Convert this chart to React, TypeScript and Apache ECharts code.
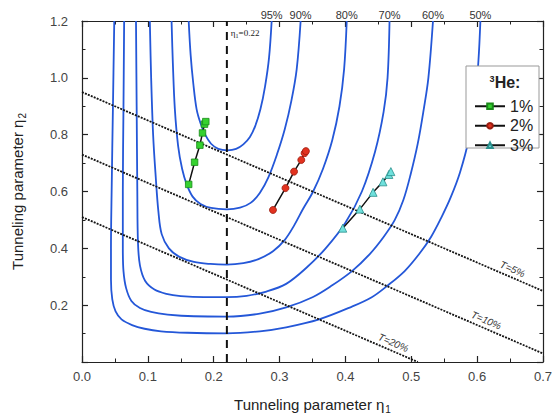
import React, { useEffect, useRef } from "react";
import * as echarts from "echarts";

// Contour curves (η1, η2), labelled at the top of the frame
const contourLevels = ["95%", "90%", "80%", "70%", "60%", "50%"];

const contour95 = [
  [0.162, 1.2], [0.165, 1.08], [0.169, 0.98], [0.174, 0.89], [0.180, 0.84], [0.187, 0.80],
  [0.196, 0.768], [0.207, 0.750], [0.221, 0.745], [0.234, 0.750], [0.245, 0.766], [0.255, 0.792],
  [0.263, 0.830], [0.271, 0.890], [0.278, 0.97], [0.284, 1.07], [0.288, 1.2],
];
const contour90 = [
  [0.136, 1.2], [0.138, 1.05], [0.141, 0.89], [0.146, 0.76], [0.152, 0.68], [0.159, 0.625],
  [0.168, 0.582], [0.180, 0.556], [0.196, 0.542], [0.22, 0.537], [0.240, 0.543], [0.256, 0.560],
  [0.270, 0.595], [0.283, 0.650], [0.296, 0.730], [0.308, 0.820], [0.318, 0.920], [0.326, 1.03],
  [0.332, 1.2],
];
const contour80 = [
  [0.103, 1.2], [0.105, 1.0], [0.108, 0.8], [0.112, 0.65], [0.116, 0.53], [0.121, 0.45],
  [0.132, 0.40], [0.148, 0.37], [0.170, 0.352], [0.195, 0.345], [0.22, 0.343], [0.245, 0.348],
  [0.268, 0.362], [0.290, 0.39], [0.308, 0.43], [0.322, 0.48], [0.336, 0.54], [0.351, 0.60],
  [0.366, 0.68], [0.380, 0.78], [0.391, 0.90], [0.398, 1.03], [0.402, 1.2],
];
const contour70 = [
  [0.082, 1.2], [0.083, 0.9], [0.084, 0.6], [0.085, 0.42], [0.088, 0.34], [0.096, 0.285],
  [0.110, 0.255], [0.128, 0.240], [0.150, 0.232], [0.185, 0.228], [0.22, 0.228], [0.25, 0.233],
  [0.28, 0.248], [0.31, 0.275], [0.34, 0.33], [0.37, 0.40], [0.40, 0.49], [0.425, 0.60],
  [0.445, 0.74], [0.458, 0.88], [0.464, 1.0], [0.467, 1.2],
];
const contour60 = [
  [0.064, 1.2], [0.063, 0.9], [0.062, 0.6], [0.062, 0.4], [0.063, 0.32], [0.067, 0.26],
  [0.075, 0.215], [0.088, 0.19], [0.105, 0.176], [0.13, 0.167], [0.17, 0.161], [0.22, 0.160],
  [0.27, 0.170], [0.31, 0.192], [0.35, 0.228], [0.38, 0.27], [0.41, 0.32], [0.437, 0.38],
  [0.458, 0.44], [0.475, 0.50], [0.488, 0.57], [0.499, 0.66], [0.510, 0.77], [0.519, 0.89],
  [0.526, 1.0], [0.533, 1.2],
];
const contour50 = [
  [0.049, 1.2], [0.047, 0.9], [0.045, 0.6], [0.044, 0.4], [0.044, 0.29], [0.046, 0.22],
  [0.051, 0.178], [0.060, 0.150], [0.076, 0.130], [0.095, 0.117], [0.12, 0.108], [0.16, 0.103],
  [0.22, 0.101], [0.27, 0.108], [0.31, 0.122], [0.36, 0.150], [0.41, 0.195], [0.44, 0.228],
  [0.463, 0.267], [0.49, 0.32], [0.512, 0.38], [0.530, 0.44], [0.546, 0.51], [0.560, 0.58],
  [0.574, 0.667], [0.588, 0.79], [0.597, 0.92], [0.602, 1.06], [0.605, 1.2],
];
const contourData = [contour95, contour90, contour80, contour70, contour60, contour50];

// 3He concentration series
const heNames = ["1%", "2%", "3%"];
const he1 = [[0.162, 0.625], [0.171, 0.703], [0.179, 0.763], [0.183, 0.806], [0.186, 0.837], [0.188, 0.846]];
const he2 = [[0.290, 0.535], [0.309, 0.612], [0.322, 0.670], [0.333, 0.711], [0.338, 0.735], [0.340, 0.742]];
const he3 = [[0.396, 0.471], [0.422, 0.538], [0.442, 0.597], [0.457, 0.634], [0.466, 0.660], [0.469, 0.670]];

// Transmission lines η1 + η2 = const
const tNames = ["T=5%", "T=10%", "T=20%"];
const tLine5 = [[0, 0.95], [0.7, 0.25]];
const tLine10 = [[0, 0.73], [0.7, 0.03]];
const tLine20 = [[0, 0.51], [0.51, 0]];
const tLines = [tLine5, tLine10, tLine20];

const etaCut = 0.22;

export default function App() {
  const ref = useRef<HTMLDivElement>(null);
  useEffect(() => {
    const chart = echarts.init(ref.current!, null, { renderer: "svg" });
    const font = "'Liberation Sans', Arial, sans-serif";
    const blue = "#2457d8";
    const axisColor = "#222";

    const series: any[] = [];
    contourData.forEach((d, i) => {
      series.push({
        type: "line",
        name: "c" + contourLevels[i],
        data: d,
        smooth: 0.35,
        showSymbol: false,
        silent: true,
        lineStyle: { color: blue, width: 1.8 },
        z: 2,
      });
    });
    tLines.forEach((d, i) => {
      series.push({
        type: "line",
        name: "t" + tNames[i],
        data: d,
        showSymbol: false,
        silent: true,
        lineStyle: { color: "#151515", width: 1.8, type: [2, 1.2] },
        z: 3,
      });
    });
    series.push({
      type: "line",
      name: "cut",
      data: [[etaCut, 0], [etaCut, 1.2]],
      showSymbol: false,
      silent: true,
      lineStyle: { color: "#111", width: 2, type: [8, 6] },
      z: 3,
    });
    const markers = [
      { data: he1, symbol: "rect", size: 6.5, color: "#35d12f", border: "#1a8a1a" },
      { data: he2, symbol: "circle", size: 7, color: "#e2321f", border: "#9a1d10" },
      { data: he3, symbol: "triangle", size: 8, color: "#6fe0dc", border: "#2a8f8c" },
    ];
    markers.forEach((m, i) => {
      series.push({
        type: "line",
        name: heNames[i],
        data: m.data,
        symbol: m.symbol,
        symbolSize: m.size,
        showAllSymbol: true,
        lineStyle: { color: "#111", width: 1.5 },
        itemStyle: { color: m.color, borderColor: m.border, borderWidth: 0.8 },
        z: 5,
      });
    });

    const axisBase = {
      type: "value",
      axisLine: { show: true, onZero: false, lineStyle: { color: axisColor, width: 1.2 } },
      axisTick: { show: true, inside: true, length: 6, lineStyle: { color: axisColor, width: 1.2 } },
      minorTick: { show: true, splitNumber: 2, length: 3.5, lineStyle: { color: axisColor, width: 1 } },
      splitLine: { show: false },
    };

    const option: any = {
      animation: false,
      backgroundColor: "#fff",
      textStyle: { fontFamily: font },
      grid: { left: 82, right: 12, top: 21, bottom: 55 },
      xAxis: [
        {
          ...axisBase,
          min: 0,
          max: 0.7,
          interval: 0.1,
          axisLabel: {
            formatter: (v: number) => v.toFixed(1),
            margin: 8,
            fontSize: 13,
            color: "#444",
            fontFamily: font,
          },
          name: "{a|Tunneling parameter η}{s|1}",
          nameLocation: "middle",
          nameGap: 33,
          nameTextStyle: {
            rich: {
              a: { fontSize: 15, color: "#222", fontFamily: font },
              s: { fontSize: 10, color: "#222", fontFamily: font, padding: [9, 0, 0, 1] },
            },
          },
        },
        {
          ...axisBase,
          position: "top",
          min: 0,
          max: 0.7,
          interval: 0.1,
          axisLabel: { show: false },
        },
      ],
      yAxis: [
        {
          ...axisBase,
          min: 0,
          max: 1.2,
          interval: 0.2,
          axisLabel: {
            formatter: (v: number) => v.toFixed(1),
            showMinLabel: false,
            margin: 14,
            fontSize: 13,
            color: "#444",
            fontFamily: font,
          },
          name: "{a|Tunneling parameter η}{s|2}",
          nameLocation: "middle",
          nameGap: 55,
          nameTextStyle: {
            rich: {
              a: { fontSize: 15, color: "#222", fontFamily: font },
              s: { fontSize: 10, color: "#222", fontFamily: font, padding: [9, 0, 0, 1] },
            },
          },
        },
        {
          ...axisBase,
          position: "right",
          min: 0,
          max: 1.2,
          interval: 0.2,
          axisLabel: { show: false },
        },
      ],
      legend: {
        data: heNames,
        orient: "vertical",
        left: 469,
        top: 93,
        itemWidth: 30,
        itemHeight: 7,
        itemGap: 3,
        z: 12,
        textStyle: { fontSize: 16, color: "#222", fontFamily: font, lineHeight: 16.5 },
      },
      series,
    };
    chart.setOption(option);

    const toPx = (p: number[]) => chart.convertToPixel({ seriesIndex: 0 }, p) as number[];
    const graphics: any[] = [];

    contourData.forEach((d, i) => {
      const top = d[d.length - 1];
      const p = toPx(top);
      graphics.push({
        type: "text",
        x: p[0],
        y: p[1] - 6,
        style: {
          text: contourLevels[i],
          align: "center",
          verticalAlign: "middle",
          fontSize: 11,
          fill: "#333",
          fontFamily: font,
        },
        z: 20,
      });
    });

    const labelAlong = [0.649, 0.609, 0.468];
    tLines.forEach((d, i) => {
      const a = toPx(d[0]);
      const b = toPx(d[1]);
      const dx = b[0] - a[0];
      const dy = b[1] - a[1];
      const len = Math.hypot(dx, dy);
      const s = d[0][1] + ((d[1][1] - d[0][1]) / (d[1][0] - d[0][0])) * (labelAlong[i] - d[0][0]);
      const p = toPx([labelAlong[i], s]);
      const off = 8;
      graphics.push({
        type: "text",
        x: p[0] + (dy / len) * off,
        y: p[1] - (dx / len) * off,
        rotation: -Math.atan2(dy, dx),
        style: {
          text: tNames[i],
          align: "center",
          verticalAlign: "middle",
          fontSize: 10,
          fontStyle: "italic",
          fill: "#333",
          fontFamily: font,
        },
        z: 20,
      });
    });

    const cutTop = toPx([etaCut, 1.2]);
    graphics.push({
      type: "text",
      x: cutTop[0] + 4,
      y: cutTop[1] + 12,
      style: {
        text: "{e|η}{s|1}{e|=0.22}",
        verticalAlign: "middle",
        rich: {
          e: { fontSize: 9, fill: "#222", fontFamily: "'Liberation Serif', serif" },
          s: { fontSize: 6, fill: "#222", fontFamily: "'Liberation Serif', serif", padding: [5, 0, 0, 0] },
        },
      },
      z: 20,
    });

    // legend frame and title
    graphics.push({
      type: "rect",
      shape: { x: 466, y: 66, width: 73, height: 82 },
      style: { fill: "#fff", stroke: "#999", lineWidth: 1 },
      z: 10,
    });
    graphics.push({
      type: "text",
      x: 505,
      y: 82,
      style: {
        text: "{s|3}{h|He:}",
        align: "center",
        verticalAlign: "middle",
        rich: {
          s: { fontSize: 9, fontWeight: "bold", fill: "#222", fontFamily: font, padding: [0, 0, 7, 0] },
          h: { fontSize: 16, fontWeight: "bold", fill: "#222", fontFamily: font },
        },
      },
      z: 12,
    });

    chart.setOption({ graphic: graphics });
    return () => chart.dispose();
  }, []);
  return <div ref={ref} style={{ position: "fixed", left: 0, top: 0, width: 555, height: 419 }} />;
}
